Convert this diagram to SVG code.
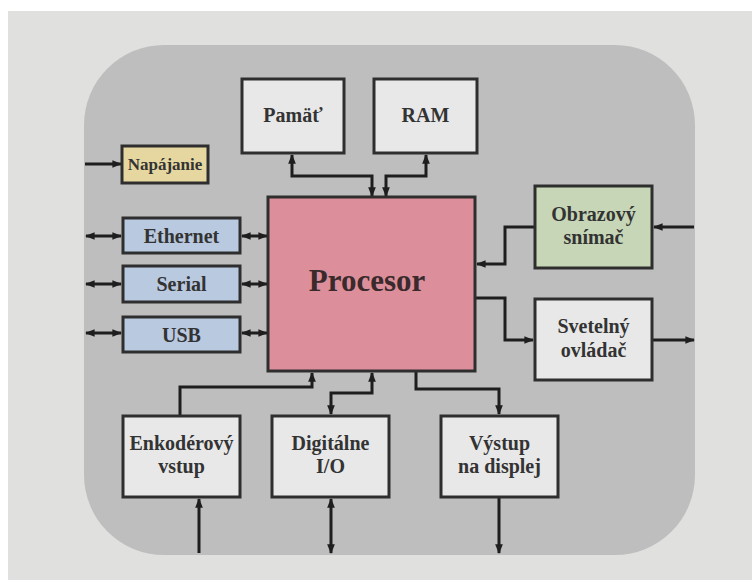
<svg xmlns="http://www.w3.org/2000/svg" width="752" height="580" viewBox="0 0 752 580">
<style>
.box{stroke:#2e2e2e;stroke-width:3}
.lbl{font-family:"Liberation Serif","Times New Roman",serif;font-weight:bold;font-size:20px;fill:#333;text-anchor:middle}
.conn{fill:none;stroke:#1e1e1e;stroke-width:3}
</style>
<defs>
<marker id="ah" viewBox="0 0 10 10" refX="9" refY="5" markerWidth="3.2" markerHeight="3.2" orient="auto-start-reverse" markerUnits="strokeWidth">
<path d="M0,1 L10,5 L0,9 z" fill="#1e1e1e"/>
</marker>
</defs>
<rect x="0" y="0" width="752" height="580" fill="#ffffff"/>
<rect x="8" y="11" width="744" height="569" fill="#e0e0df"/>
<rect x="84" y="45" width="611" height="510" rx="80" ry="80" fill="#bebebe"/>

<g id="connectors" class="conn">
<path d="M85,164 H121" marker-end="url(#ah)"/>
<path d="M86,236 H121" marker-start="url(#ah)" marker-end="url(#ah)"/>
<path d="M86,284 H121" marker-start="url(#ah)" marker-end="url(#ah)"/>
<path d="M86,333 H121" marker-start="url(#ah)" marker-end="url(#ah)"/>
<path d="M242,236 H267" marker-start="url(#ah)" marker-end="url(#ah)"/>
<path d="M242,284 H267" marker-start="url(#ah)" marker-end="url(#ah)"/>
<path d="M242,333 H267" marker-start="url(#ah)" marker-end="url(#ah)"/>
<path d="M292,155 V176 H372 V196" marker-start="url(#ah)" marker-end="url(#ah)"/>
<path d="M426,155 V176 H386 V196" marker-start="url(#ah)" marker-end="url(#ah)"/>
<path d="M694,227 H654" marker-end="url(#ah)"/>
<path d="M535,227 H505 V264 H477" marker-end="url(#ah)"/>
<path d="M475,298 H505 V340 H533" marker-end="url(#ah)"/>
<path d="M652,340 H694" marker-end="url(#ah)"/>
<path d="M180,416 V387 H312 V373" marker-end="url(#ah)"/>
<path d="M372,373 V393 H331 V414" marker-start="url(#ah)" marker-end="url(#ah)"/>
<path d="M416,371 V389 H499 V414" marker-end="url(#ah)"/>
<path d="M199,553 V499" marker-end="url(#ah)"/>
<path d="M331,499 V553" marker-start="url(#ah)" marker-end="url(#ah)"/>
<path d="M499,497 V553" marker-end="url(#ah)"/>
</g>

<g id="napajanie"><rect class="box" x="122" y="146" width="86" height="37" fill="#e6d7a1"/><text class="lbl" x="165" y="170" font-size="17" style="font-size:17px">Napájanie</text></g>
<g id="ethernet"><rect class="box" x="123" y="218" width="117" height="35" fill="#b9c9e0"/><text class="lbl" x="181.5" y="243">Ethernet</text></g>
<g id="serial"><rect class="box" x="123" y="266" width="117" height="36" fill="#b9c9e0"/><text class="lbl" x="181.5" y="291">Serial</text></g>
<g id="usb"><rect class="box" x="123" y="317" width="117" height="35" fill="#b9c9e0"/><text class="lbl" x="181.5" y="342">USB</text></g>
<g id="procesor"><rect class="box" x="268" y="197" width="207" height="174" fill="#dc8f9b"/><text class="lbl" x="367" y="291" style="font-size:31px;fill:#3a2a2c">Procesor</text></g>
<g id="pamat"><rect class="box" x="242" y="79" width="102" height="74" fill="#e8e8e8"/><text class="lbl" x="293" y="122">Pamäť</text></g>
<g id="ram"><rect class="box" x="374" y="79" width="103" height="74" fill="#e8e8e8"/><text class="lbl" x="425.5" y="122">RAM</text></g>
<g id="obrazovy"><rect class="box" x="535" y="186" width="117" height="82" fill="#c6d6b6"/><text class="lbl" x="593.5" y="221">Obrazový</text><text class="lbl" x="593.5" y="244">snímač</text></g>
<g id="svetelny"><rect class="box" x="535" y="299" width="117" height="81" fill="#e8e8e8"/><text class="lbl" x="593.5" y="333">Svetelný</text><text class="lbl" x="593.5" y="357">ovládač</text></g>
<g id="enkoderovy"><rect class="box" x="123" y="416" width="117" height="81" fill="#e8e8e8"/><text class="lbl" x="181.5" y="450">Enkodérový</text><text class="lbl" x="181.5" y="473">vstup</text></g>
<g id="digitalne"><rect class="box" x="272" y="416" width="117" height="81" fill="#e8e8e8"/><text class="lbl" x="330.5" y="450">Digitálne</text><text class="lbl" x="330.5" y="473">I/O</text></g>
<g id="vystup"><rect class="box" x="441" y="416" width="117" height="81" fill="#e8e8e8"/><text class="lbl" x="499.5" y="450">Výstup</text><text class="lbl" x="499.5" y="473">na displej</text></g>
</svg>
